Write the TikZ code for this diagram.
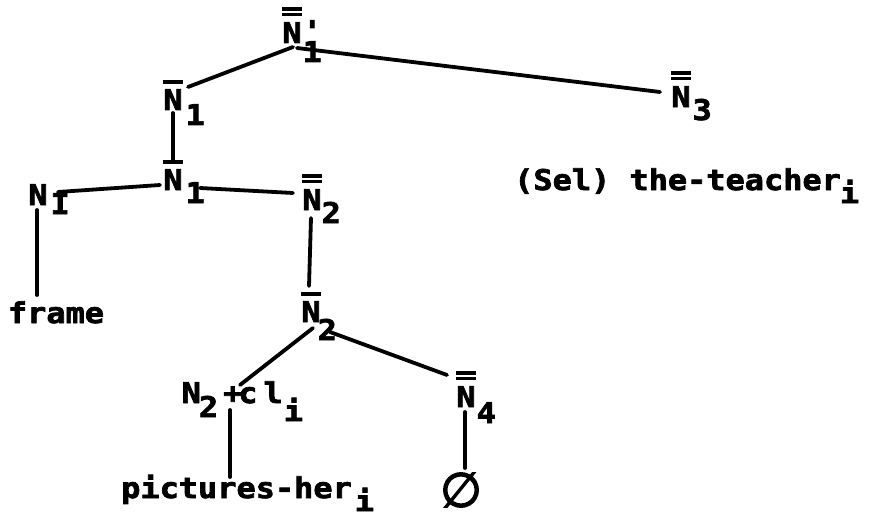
\documentclass[tikz,border=0pt]{standalone}
\usepackage{fontspec}
\newfontfamily\tw[FakeStretch=1.12,FakeBold=2.5]{DejaVu Sans Mono}
\newfontfamily\djs[FakeBold=3]{DejaVu Sans}
\usetikzlibrary{calc}
\newcommand\bN{\leavevmode\vbox{\hrule height 4pt\kern5pt\hbox{N}}}
\newcommand\bbN{\leavevmode\vbox{\hrule height 3.5pt\kern2pt\hrule height 3.5pt\kern6pt\hbox{N}}}
\newcommand\lowsub[2][13pt]{\raisebox{-#1}{#2}}
\newcommand\after[1]{\rlap{\smash{#1}}}
\tikzset{
  lbl/.style={font=\tw\bfseries\fontsize{28.5}{30}\selectfont, inner sep=0pt, anchor=base},
  edge/.style={line width=3.8pt, line cap=round},
}
\begin{document}
\begin{tikzpicture}[x=1pt,y=-1pt]
\path[use as bounding box, fill=white] (0,0) rectangle (870,519);
% nodes
\node[lbl] (t) at (292,43) {\bbN\after{\kern1pt\rlap{\raisebox{2pt}{'}}\lowsub[19pt]{1}}};
\node[lbl] (a) at (173,110) {\bN\after{\kern3pt\lowsub[15pt]{1}}};
\node[lbl] (b) at (173,190) {\bN\after{\kern3pt\lowsub{1}}};
\node[lbl] (c) at (38,205) {N\after{\kern3pt\lowsub[9pt]{I}}};
\node[lbl] (d) at (312,210) {\bbN\after{\kern0pt\lowsub{2}}};
\node[lbl] (e) at (311,322) {\bN\after{\kern-3pt\lowsub[18pt]{2}}};
\node[lbl] (g) at (466,407) {\bbN\after{\kern1pt\lowsub[16pt]{4}}};
\node[lbl] (h) at (681,107) {\bbN\after{\kern2pt\lowsub[13pt]{3}}};
\node[lbl] (fr) at (56,323) {frame};
\node[lbl, anchor=base west] (f) at (181.5,403) {N\kern-2pt\lowsub[14pt]{2}\kern5pt+\kern-4pt c\kern6pt l\kern1pt\lowsub[18pt]{i}};
\node[lbl, anchor=base west] (pic) at (121,498) {pictures-her\kern3pt\lowsub{i}};
\node[lbl, anchor=base west] (sel) at (514,190) {(Sel) the-teacher\kern-1pt\lowsub{i}};
\node[inner sep=0pt, font=\djs\fontsize{48}{50}\selectfont] (zero) at (461,490) {∅};
% connectors
\draw[edge] ($(t.base)+(1,4)$) -- ($(a.base)+(15,-23)$);
\draw[edge] ($(t.base)+(5,5)$) -- ($(h.base)+(-21,-15)$);
\draw[edge] ($(a.base)+(0,3)$) -- ($(b.base)+(0,-30)$);
\draw[edge] ($(b.base)+(-13,-5)$) -- ($(c.base)+(20,-13)$);
\draw[edge] ($(b.base)+(27,-2)$) -- ($(d.base)+(-19,-17)$);
\draw[edge] ($(c.base)+(-1,5)$) -- ($(fr.base)+(-19,-28)$);
\draw[edge] ($(d.base)+(-1,8)$) -- ($(e.base)+(-2,-36)$);
\draw[edge] ($(e.base)+(2,6)$) -- ($(f.base west)+(58.5,-18)$);
\draw[edge] ($(e.base)+(19,10)$) -- ($(g.base)+(-19,-32)$);
\draw[edge] ($(f.base west)+(48.5,7)$) -- ($(pic.base west)+(109,-21)$);
\draw[edge] ($(g.base)+(-1,5)$) -- ($(zero.center)+(4,-22)$);
\end{tikzpicture}
\end{document}
